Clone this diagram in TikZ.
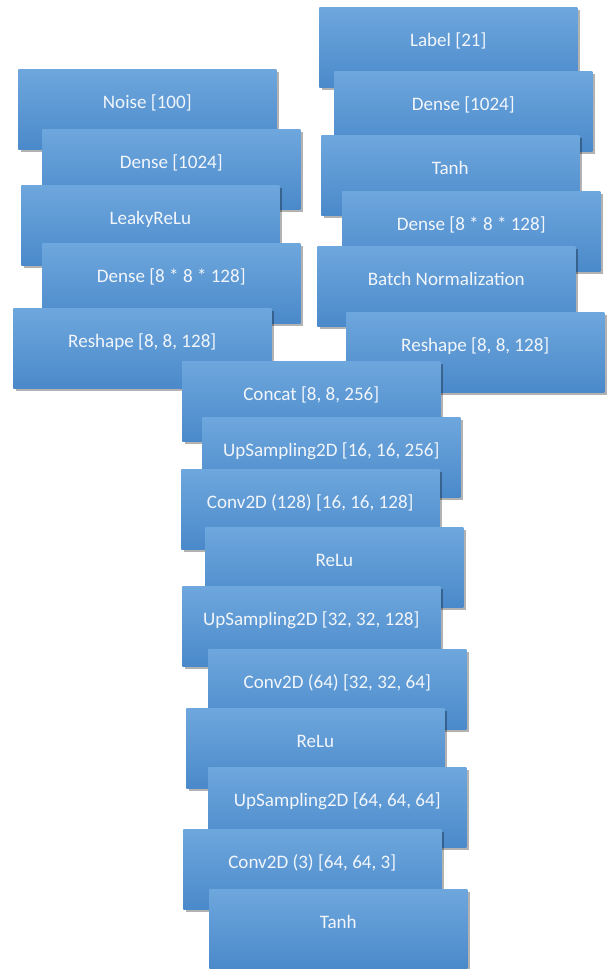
\documentclass[tikz,border=0pt]{standalone}
\usepackage{fontspec}
\setmainfont{Carlito}
\usetikzlibrary{shadows}
\definecolor{layertop}{HTML}{6EA7DD}
\definecolor{layermid}{HTML}{5B9BD5}
\definecolor{layerbot}{HTML}{4A89CA}
\definecolor{layertext}{HTML}{F2F6FB}
\begin{document}
\begin{tikzpicture}[x=0.75pt,y=-0.75pt,
		layer/.style={anchor=north west,rectangle,inner xsep=0pt,inner ysep=0pt,
			minimum width=193.5pt,text height=29.25pt,text depth=30.75pt,
			top color=layertop,middle color=layermid,bottom color=layerbot,
			text=layertext,font=\fontsize{14.3}{17}\selectfont,
			drop shadow={shadow xshift=1.8pt,shadow yshift=-1.8pt,opacity=0.3,fill=black}}]
		\useasboundingbox (0,0) rectangle (606,969);
		% noise branch
		\node[layer] (n0) at (18,69) {Noise [100]};
		\node[layer] (n1) at (42,129) {Dense [1024]};
		\node[layer] (n2) at (21,185) {LeakyReLu};
		\node[layer] (n3) at (42,243) {Dense [8 * 8 * 128]};
		\node[layer] (n4) at (13,308) {Reshape [8, 8, 128]};
		% label branch
		\node[layer] (l0) at (319,7) {Label [21]};
		\node[layer] (l1) at (334,71) {Dense [1024]};
		\node[layer] (l2) at (321,135) {Tanh};
		\node[layer] (l3) at (342,191) {Dense [8 * 8 * 128]};
		\node[layer] (l4) at (317,246) {Batch Normalization};
		\node[layer] (l5) at (346,312) {Reshape [8, 8, 128]};
		% joint stack
		\node[layer] (m0) at (182,361) {Concat [8, 8, 256]};
		\node[layer] (m1) at (202,417) {UpSampling2D [16, 16, 256]};
		\node[layer] (m2) at (181,469) {Conv2D (128) [16, 16, 128]};
		\node[layer] (m3) at (205,527) {ReLu};
		\node[layer] (m4) at (182,586) {UpSampling2D [32, 32, 128]};
		\node[layer] (m5) at (208,649) {Conv2D (64) [32, 32, 64]};
		\node[layer] (m6) at (186,708) {ReLu};
		\node[layer] (m7) at (208,767) {UpSampling2D [64, 64, 64]};
		\node[layer] (m8) at (183,829) {Conv2D (3) [64, 64, 3]};
		\node[layer] (m9) at (209,889) {Tanh};
	\end{tikzpicture}
\end{document}
